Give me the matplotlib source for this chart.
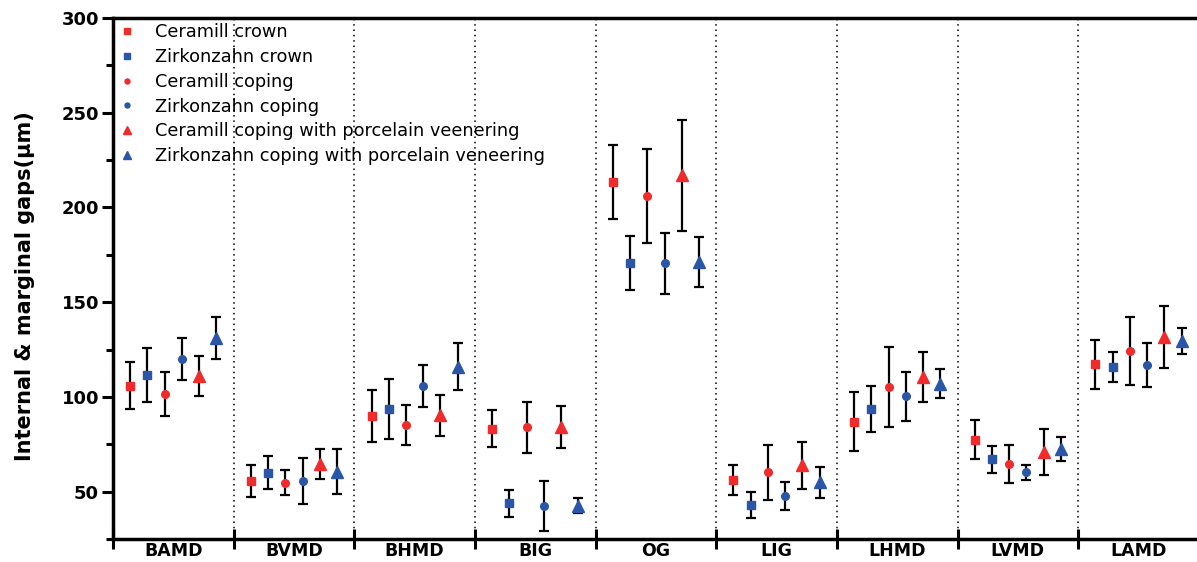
import numpy as np
import matplotlib
matplotlib.use('Agg')
import matplotlib.pyplot as plt
from matplotlib.lines import Line2D
from matplotlib.ticker import MultipleLocator, FixedLocator

plt.rcParams['font.family'] = ['DejaVu Sans']

# 数据
groups = ['BAMD', 'BVMD', 'BHMD', 'BIG', 'OG', 'LIG', 'LHMD', 'LVMD', 'LAMD']
series = ['Ceramill crown', 'Zirkonzahn crown', 'Ceramill coping',
          'Zirkonzahn coping', 'Ceramill coping with porcelain veenering',
          'Zirkonzahn coping with porcelain veneering']

ceramill_crown = [106.0, 55.5, 90.0, 83.3, 213.5, 56.3, 86.9, 77.5, 117.2]
ceramill_crown_sd = [12.5, 8.3, 13.6, 10.0, 19.5, 8.0, 15.5, 10.5, 13.0]
zirkon_crown = [111.5, 60.0, 93.6, 43.8, 170.5, 43.0, 93.6, 67.0, 115.6]
zirkon_crown_sd = [14.4, 8.8, 16.0, 7.1, 14.3, 7.0, 12.0, 7.2, 7.9]
ceramill_coping = [101.5, 54.8, 85.2, 84.0, 206.0, 60.3, 105.2, 64.6, 124.3]
ceramill_coping_sd = [11.5, 6.5, 10.7, 13.5, 25.0, 14.5, 21.0, 10.2, 18.0]
zirkon_coping = [120.0, 55.5, 105.7, 42.4, 170.5, 47.8, 100.3, 60.2, 117.0]
zirkon_coping_sd = [11.0, 12.2, 11.0, 13.0, 16.0, 7.4, 13.0, 4.0, 11.7]
ceramill_ven = [111.0, 64.8, 90.3, 84.1, 217.0, 64.0, 110.5, 71.0, 131.7]
ceramill_ven_sd = [10.5, 7.9, 10.7, 11.3, 29.3, 12.4, 13.3, 12.0, 16.4]
zirkon_ven = [131.0, 60.6, 116.0, 42.5, 171.3, 55.0, 107.0, 72.5, 129.5]
zirkon_ven_sd = [11.0, 12.0, 12.2, 4.0, 13.2, 8.2, 7.5, 6.5, 7.0]

means = [ceramill_crown, zirkon_crown, ceramill_coping, zirkon_coping, ceramill_ven, zirkon_ven]
sds = [ceramill_crown_sd, zirkon_crown_sd, ceramill_coping_sd, zirkon_coping_sd, ceramill_ven_sd, zirkon_ven_sd]

red = '#ef2b2b'
blue = '#2a56a8'
colors = [red, blue, red, blue, red, blue]
markers = ['s', 's', 'o', 'o', '^', '^']
msizes = [6, 6, 5.5, 5.5, 8, 8]

fig = plt.figure(figsize=(11.97, 5.62), dpi=100)
ax = fig.add_axes([113 / 1197, 1 - 539 / 562, (9 * 120.65) / 1197, (539 - 18) / 562])

x = np.arange(len(groups))
for k in range(6):
    ax.errorbar(x + (k + 1) / 7, means[k], yerr=sds[k], fmt=markers[k], color=colors[k],
                markersize=msizes[k], ecolor='black', elinewidth=1.6, capsize=3.5,
                capthick=1.6, zorder=3)

# 分隔虚线
for i in range(1, len(groups)):
    ax.axvline(i, color='black', linestyle=(0, (1, 2.5)), linewidth=1.1, zorder=1)

ax.set_xlim(0, len(groups))
ax.set_ylim(25, 300)
ax.xaxis.set_major_locator(FixedLocator(np.arange(len(groups) + 1)))
ax.xaxis.set_minor_locator(FixedLocator(x + 0.5))
ax.set_xticklabels([], minor=False)
ax.set_xticklabels(groups, minor=True, fontsize=12.5, fontweight='bold')
ax.tick_params(axis='x', which='major', direction='inout', length=14, width=2.2)
ax.tick_params(axis='x', which='minor', length=0, pad=2)

ax.yaxis.set_major_locator(FixedLocator([50, 100, 150, 200, 250, 300]))
ax.yaxis.set_minor_locator(MultipleLocator(25))
ax.tick_params(axis='y', which='major', direction='out', length=8, width=2.2, labelsize=13, pad=2)
ax.tick_params(axis='y', which='minor', direction='out', length=5, width=2.2)
for lab in ax.get_yticklabels():
    lab.set_fontweight('bold')

ax.set_ylabel('Internal & marginal gaps(\u03bcm)', fontsize=15, fontweight='bold')
ax.yaxis.set_label_coords(-0.072, 0.485)

for s in ['left', 'bottom', 'top']:
    ax.spines[s].set_linewidth(2.5)
ax.spines['right'].set_visible(False)

# 图例只显示标记
handles = [Line2D([], [], linestyle='none', marker=markers[k], color=colors[k],
                  markersize=msizes[k] * 0.65) for k in range(6)]
ax.legend(handles, series, loc='upper left', bbox_to_anchor=(0.0, 1.0), frameon=False,
          fontsize=12.8, handlelength=1.0, handletextpad=1.05, labelspacing=0.38,
          borderpad=0.2, borderaxespad=0.1)

plt.savefig('out.png', dpi=100)
